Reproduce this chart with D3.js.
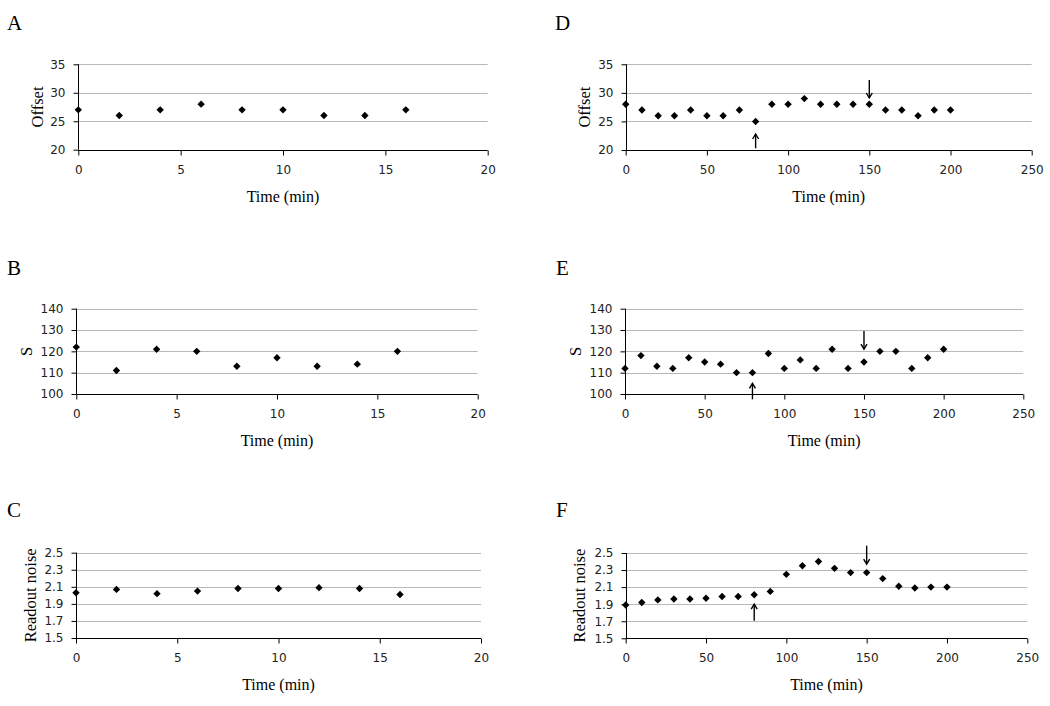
<!DOCTYPE html>
<html>
<head>
<meta charset="utf-8">
<script src="https://cdn.jsdelivr.net/npm/d3@7"></script>
<style>
  html, body { margin: 0; padding: 0; background: #fff; }
  svg { display: block; }
</style>
</head>
<body>
<svg id="chart" width="1050" height="706"></svg>
<script>
// ---- data ----
const timeShort = [0, 2, 4, 6, 8, 10, 12, 14, 16];
const timeLong = [0, 10, 20, 30, 40, 50, 60, 70, 80, 90, 100, 110, 120, 130, 140, 150, 160, 170, 180, 190, 200];

const offsetA = [27, 26, 27, 28, 27, 27, 26, 26, 27];
const sB = [122, 111, 121, 120, 113, 117, 113, 114, 120];
const noiseC = [2.03, 2.07, 2.02, 2.05, 2.08, 2.08, 2.09, 2.08, 2.01];

const offsetD = [28, 27, 26, 26, 27, 26, 26, 27, 25, 28, 28, 29, 28, 28, 28, 28, 27, 27, 26, 27, 27];
const sE = [112, 118, 113, 112, 117, 115, 114, 110, 110, 119, 112, 116, 112, 121, 112, 115, 120, 120, 112, 117, 121];
const noiseF = [1.89, 1.92, 1.95, 1.96, 1.96, 1.97, 1.99, 1.99, 2.01, 2.05, 2.25, 2.35, 2.40, 2.32, 2.27, 2.27, 2.20, 2.11, 2.09, 2.10, 2.10];

const xTicksShort = [0, 5, 10, 15, 20];
const xTicksLong = [0, 50, 100, 150, 200, 250];
const yTicksOffset = [20, 25, 30, 35];
const yTicksS = [100, 110, 120, 130, 140];
const yTicksNoise = [1.5, 1.7, 1.9, 2.1, 2.3, 2.5];

const panelLetters = ["A", "B", "C", "D", "E", "F"];
const yLabels = ["Offset", "S", "Readout noise", "Offset", "S", "Readout noise"];
const xLabel = "Time (min)";

// arrows (annotation): [x value, tail y value, tip y value]
const arrowsD = [[80, 20.3, 22.8], [150, 32.25, 29.1]];
const arrowsE = [[80, 97.5, 105], [150, 129.5, 121]];
const arrowsF = [[80, 1.706, 1.90], [150, 2.586, 2.37]];

// ---- layout ----
const panels = [
  { letter: panelLetters[0], ylab: yLabels[0], xs: timeShort, ys: offsetA, xt: xTicksShort, yt: yTicksOffset, yfmt: d3.format("d"),
    x0: 78.3, x1: 487.7, yTop: 64.3, yBot: 149.7, lx: 7, ly: 30, labX: 42.5, arrows: [] },
  { letter: panelLetters[1], ylab: yLabels[1], xs: timeShort, ys: sB, xt: xTicksShort, yt: yTicksS, yfmt: d3.format("d"),
    x0: 76.3, x1: 477.7, yTop: 308.7, yBot: 394, lx: 7, ly: 275, labX: 32, arrows: [] },
  { letter: panelLetters[2], ylab: yLabels[2], xs: timeShort, ys: noiseC, xt: xTicksShort, yt: yTicksNoise, yfmt: d3.format(".1f"),
    x0: 76, x1: 481, yTop: 552.7, yBot: 638, lx: 7, ly: 517, labX: 36, arrows: [] },
  { letter: panelLetters[3], ylab: yLabels[3], xs: timeLong, ys: offsetD, xt: xTicksLong, yt: yTicksOffset, yfmt: d3.format("d"),
    x0: 625.7, x1: 1031.7, yTop: 64.3, yBot: 150, lx: 555, ly: 30, labX: 590, arrows: arrowsD },
  { letter: panelLetters[4], ylab: yLabels[4], xs: timeLong, ys: sE, xt: xTicksLong, yt: yTicksS, yfmt: d3.format("d"),
    x0: 625, x1: 1023.3, yTop: 308.7, yBot: 394, lx: 556, ly: 275, labX: 581, arrows: arrowsE },
  { letter: panelLetters[5], ylab: yLabels[5], xs: timeLong, ys: noiseF, xt: xTicksLong, yt: yTicksNoise, yfmt: d3.format(".1f"),
    x0: 625.7, x1: 1027.3, yTop: 553, yBot: 638.3, lx: 556, ly: 517, labX: 585, arrows: arrowsF }
];

const svg = d3.select("#chart");
const tickFont = "DejaVu Sans, Verdana, sans-serif";
const serif = "Liberation Serif, Times New Roman, serif";
const r = 3.7;
const diamondPath = `M0,${-r}L${r},0L0,${r}L${-r},0Z`;

panels.forEach(p => {
  const x = d3.scaleLinear().domain([p.xt[0], p.xt[p.xt.length - 1]]).range([p.x0, p.x1]);
  const y = d3.scaleLinear().domain([p.yt[0], p.yt[p.yt.length - 1]]).range([p.yBot, p.yTop]);
  const g = svg.append("g");

  // gridlines
  g.selectAll(".grid").data(p.yt.slice(1)).join("line")
    .attr("x1", p.x0).attr("x2", p.x1)
    .attr("y1", d => Math.round(y(d)) + 0.5).attr("y2", d => Math.round(y(d)) + 0.5)
    .attr("stroke", "#b8b8b8").attr("stroke-width", 1);

  // y axis
  const yAxis = d3.axisLeft(y).tickValues(p.yt).tickFormat(p.yfmt).tickSize(5).tickPadding(8);
  const ya = g.append("g").attr("transform", `translate(${Math.round(p.x0) + 0.5},0)`).call(yAxis);
  ya.select(".domain").attr("stroke", "#000").attr("d", `M0,${p.yTop}V${p.yBot}`);
  ya.selectAll(".tick line").attr("stroke", "#000");
  ya.selectAll(".tick text").attr("font-family", tickFont).attr("font-size", 12).attr("fill", "#222");

  // x axis
  const xAxis = d3.axisBottom(x).tickValues(p.xt).tickFormat(d3.format("d")).tickSize(5).tickPadding(10);
  const xa = g.append("g").attr("transform", `translate(0,${Math.round(p.yBot) + 0.5})`).call(xAxis);
  xa.select(".domain").attr("stroke", "#000").attr("d", `M${p.x0},0H${p.x1}`);
  xa.selectAll(".tick line").attr("stroke", "#000");
  xa.selectAll(".tick text").attr("font-family", tickFont).attr("font-size", 12).attr("fill", "#222");

  // points
  g.selectAll(".pt").data(p.xs.map((t, i) => [t, p.ys[i]])).join("path")
    .attr("d", diamondPath)
    .attr("transform", d => `translate(${x(d[0])},${y(d[1])})`)
    .attr("fill", "#000");

  // arrows
  p.arrows.forEach(a => {
    const ax = x(a[0]), yt = y(a[1]), yh = y(a[2]);
    const dir = yh < yt ? 1 : -1; // 1: pointing up
    g.append("line").attr("x1", ax).attr("x2", ax).attr("y1", yt).attr("y2", yh)
      .attr("stroke", "#000").attr("stroke-width", 1.4);
    g.append("path")
      .attr("d", `M${ax - 3},${yh + dir * 5}L${ax},${yh}L${ax + 3},${yh + dir * 5}`)
      .attr("fill", "none").attr("stroke", "#000").attr("stroke-width", 1.4);
  });

  // labels
  g.append("text").attr("x", p.lx).attr("y", p.ly).text(p.letter)
    .attr("font-family", serif).attr("font-size", 21).attr("fill", "#000");
  g.append("text").attr("x", (p.x0 + p.x1) / 2).attr("y", p.yBot + 52)
    .attr("text-anchor", "middle").text(xLabel)
    .attr("font-family", serif).attr("font-size", 16).attr("fill", "#000");
  g.append("text")
    .attr("transform", `translate(${p.labX},${(p.yTop + p.yBot) / 2}) rotate(-90)`)
    .attr("text-anchor", "middle").text(p.ylab)
    .attr("font-family", serif).attr("font-size", 16.5).attr("fill", "#000");
});
</script>
</body>
</html>
